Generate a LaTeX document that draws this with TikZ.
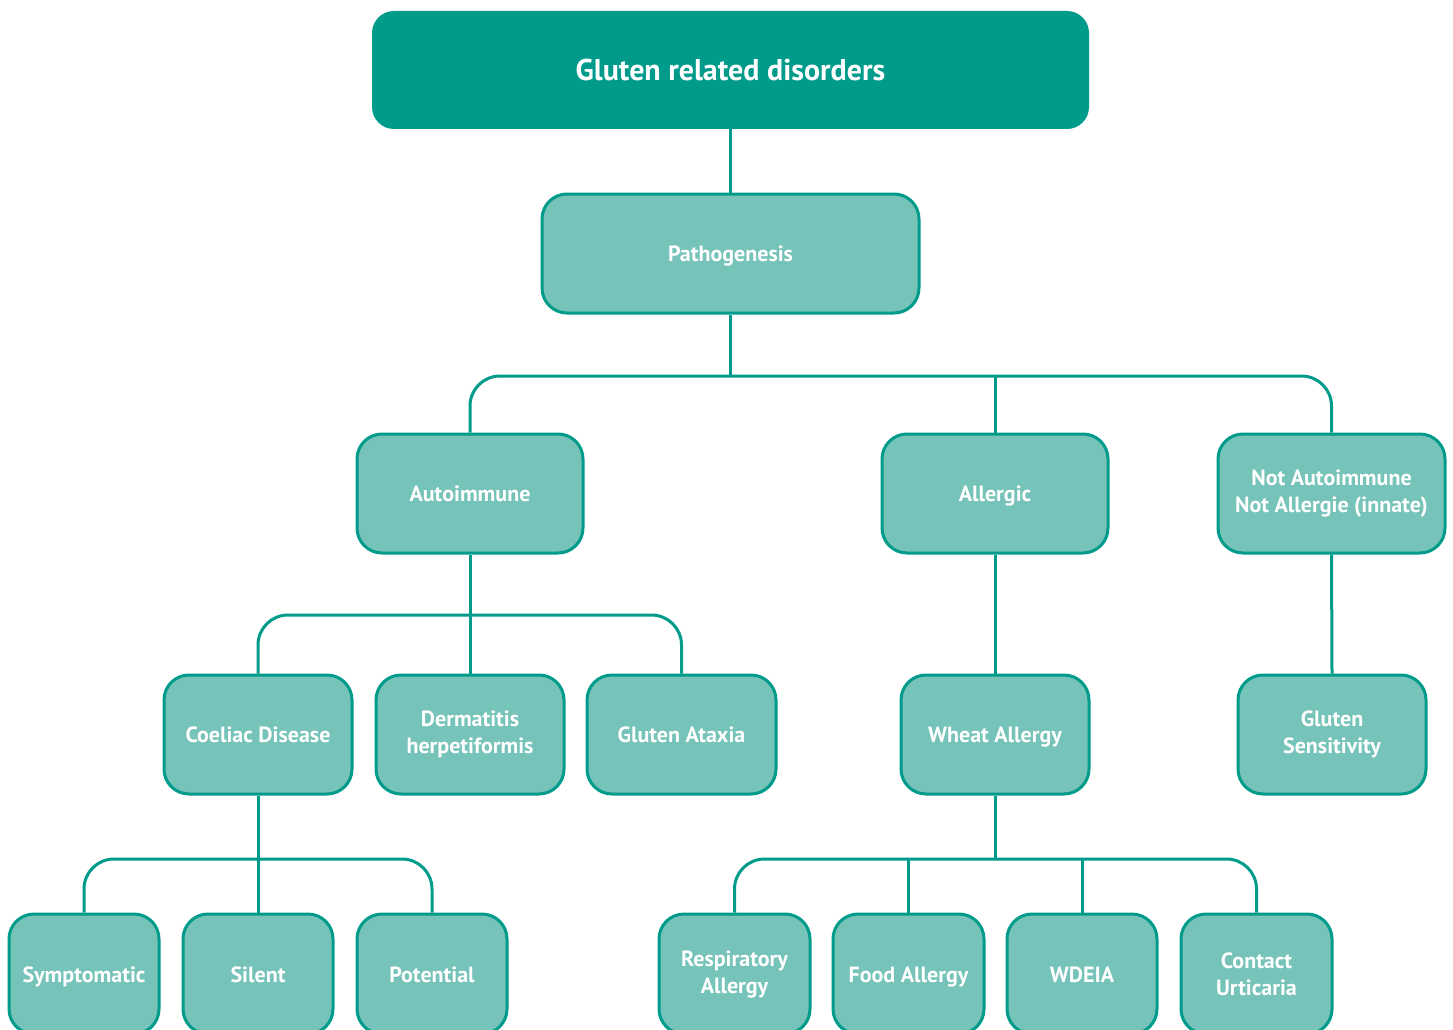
\documentclass[tikz,border=0pt]{standalone}
\usepackage{fontspec}
\setmainfont{PT Sans}
\definecolor{dark}{RGB}{0,155,138}
\definecolor{light}{RGB}{118,195,185}
\tikzset{
  box/.style={draw=dark, line width=3pt, fill=light, rounded corners=25pt, text=white,
    align=center, font=\fontsize{22}{27}\selectfont\bfseries, inner sep=0pt},
  oneline/.style={text height=16pt, text depth=0pt},
  titlebox/.style={fill=dark, rounded corners=22pt, text=white, align=center,
    font=\fontsize{30}{34}\selectfont\bfseries, inner sep=0pt, text height=21pt, text depth=0pt},
  conn/.style={draw=dark, line width=3pt, rounded corners=30pt}
}
\begin{document}
\begin{tikzpicture}[x=1pt,y=-1pt]
\useasboundingbox (0,0) rectangle (1453,1030);
\clip (0,0) rectangle (1453,1030);
\node[titlebox, minimum width=717pt, minimum height=118pt] (top) at (730.5,70) {Gluten related disorders};
\node[box, oneline, minimum width=377pt, minimum height=119pt] (path) at (730.5,253.5) {Pathogenesis};
\node[box, oneline, minimum width=226pt, minimum height=119pt] (auto) at (470,493.5) {Autoimmune};
\node[box, oneline, minimum width=226pt, minimum height=119pt] (allerg) at (995,493.5) {Allergic};
\node[box, minimum width=227pt, minimum height=119pt] (notauto) at (1331.5,493.5) {Not Autoimmune\\Not Allergie (innate)};
\node[box, oneline, minimum width=188pt, minimum height=119pt] (coeliac) at (258,734.5) {Coeliac Disease};
\node[box, minimum width=188pt, minimum height=119pt] (derm) at (470,734.5) {Dermatitis\\herpetiformis};
\node[box, oneline, minimum width=189pt, minimum height=119pt] (ataxia) at (681.5,734.5) {Gluten Ataxia};
\node[box, oneline, minimum width=188pt, minimum height=119pt] (wheat) at (995,734.5) {Wheat Allergy};
\node[box, minimum width=188pt, minimum height=119pt] (gsens) at (1332,734.5) {Gluten\\Sensitivity};
\node[box, oneline, minimum width=150pt, minimum height=120pt] (sympt) at (84,974) {Symptomatic};
\node[box, oneline, minimum width=150pt, minimum height=120pt] (silent) at (258,974) {Silent};
\node[box, oneline, minimum width=150pt, minimum height=120pt] (potent) at (432,974) {Potential};
\node[box, minimum width=151pt, minimum height=120pt] (resp) at (734.5,974) {Respiratory\\Allergy};
\node[box, oneline, minimum width=151pt, minimum height=120pt] (food) at (908.5,974) {Food Allergy};
\node[box, oneline, minimum width=150pt, minimum height=120pt] (wdeia) at (1082,974) {WDEIA};
\node[box, minimum width=151pt, minimum height=120pt] (contact) at (1256.5,974) {Contact\\Urticaria};
% connectors
\draw[conn] (top.south) -- (path.north);
\draw[conn] (path.south) -- (path.south |- 0,376);
\draw[conn] (auto.north) |- (notauto.north |- 0,376) -- (notauto.north);
\draw[conn] (allerg.north) -- (allerg.north |- 0,376);
\draw[conn] (auto.south) -- (derm.north);
\draw[conn] (coeliac.north) |- (ataxia.north |- 0,615) -- (ataxia.north);
\draw[conn] (allerg.south) -- (wheat.north);
\draw[conn] (notauto.south) -- (gsens.north);
\draw[conn] (coeliac.south) -- (silent.north);
\draw[conn] (sympt.north) |- (potent.north |- 0,859) -- (potent.north);
\draw[conn] (wheat.south) -- (wheat.south |- 0,859);
\draw[conn] (resp.north) |- (contact.north |- 0,859) -- (contact.north);
\draw[conn] (food.north) -- (food.north |- 0,859);
\draw[conn] (wdeia.north) -- (wdeia.north |- 0,859);
\end{tikzpicture}
\end{document}
